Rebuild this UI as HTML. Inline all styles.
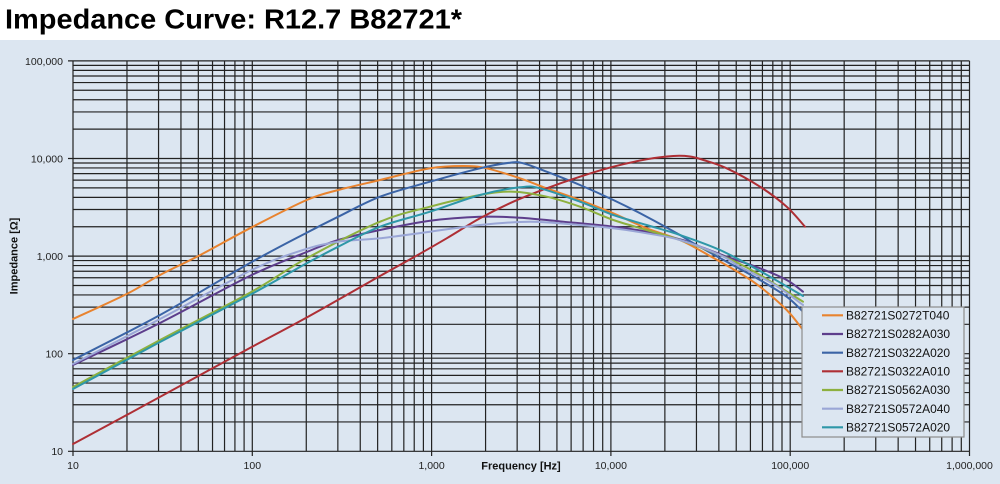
<!DOCTYPE html>
<html>
<head>
<meta charset="utf-8">
<style>
html,body{margin:0;padding:0;background:#fff;}
svg{display:block;}
text{font-family:"Liberation Sans",Arial,sans-serif;}
</style>
</head>
<body>
<svg width="1000" height="484" viewBox="0 0 1000 484" xmlns="http://www.w3.org/2000/svg">
<rect x="0" y="0" width="1000" height="40" fill="#ffffff"/>
<rect x="0" y="40" width="1000" height="444" fill="#dce6f1"/>
<text x="5" y="28.5" font-size="28" font-weight="bold" fill="#000" textLength="457" lengthAdjust="spacingAndGlyphs">Impedance Curve: R12.7 B82721*</text>

<!-- grid -->
<g stroke="#222" stroke-width="1.2" fill="none">
<path d="M73 60.9V451.3M126.97 60.9V451.3M158.55 60.9V451.3M180.95 60.9V451.3M198.33 60.9V451.3M212.52 60.9V451.3M224.53 60.9V451.3M234.92 60.9V451.3M244.1 60.9V451.3
M252.3 60.9V451.3M306.27 60.9V451.3M337.85 60.9V451.3M360.25 60.9V451.3M377.63 60.9V451.3M391.82 60.9V451.3M403.83 60.9V451.3M414.22 60.9V451.3M423.4 60.9V451.3
M431.6 60.9V451.3M485.57 60.9V451.3M517.15 60.9V451.3M539.55 60.9V451.3M556.93 60.9V451.3M571.12 60.9V451.3M583.13 60.9V451.3M593.52 60.9V451.3M602.7 60.9V451.3
M610.9 60.9V451.3M664.87 60.9V451.3M696.45 60.9V451.3M718.85 60.9V451.3M736.23 60.9V451.3M750.42 60.9V451.3M762.43 60.9V451.3M772.82 60.9V451.3M782 60.9V451.3
M790.2 60.9V451.3M844.17 60.9V451.3M875.75 60.9V451.3M898.15 60.9V451.3M915.53 60.9V451.3M929.72 60.9V451.3M941.73 60.9V451.3M952.12 60.9V451.3M961.3 60.9V451.3
M969.5 60.9V451.3"/>
<path d="M73 451.3H969.5M73 421.92H969.5M73 404.73H969.5M73 392.54H969.5M73 383.08H969.5M73 375.35H969.5M73 368.82H969.5M73 363.16H969.5M73 358.17H969.5
M73 353.7H969.5M73 324.32H969.5M73 307.13H969.5M73 294.94H969.5M73 285.48H969.5M73 277.75H969.5M73 271.22H969.5M73 265.56H969.5M73 260.57H969.5
M73 256.1H969.5M73 226.72H969.5M73 209.53H969.5M73 197.34H969.5M73 187.88H969.5M73 180.15H969.5M73 173.62H969.5M73 167.96H969.5M73 162.97H969.5
M73 158.5H969.5M73 129.12H969.5M73 111.93H969.5M73 99.74H969.5M73 90.28H969.5M73 82.55H969.5M73 76.02H969.5M73 70.36H969.5M73 65.37H969.5
M73 60.9H969.5"/>
<!-- tick marks -->
<path d="M68 451.3H73M68 353.7H73M68 256.1H73M68 158.5H73M68 60.9H73
M73 451.3V456M252.3 451.3V456M431.6 451.3V456M610.9 451.3V456M790.2 451.3V456M969.5 451.3V456"/>
</g>

<!-- y tick labels -->
<g font-size="10.5" fill="#222" text-anchor="end">
<text x="63" y="64.8">100,000</text>
<text x="63" y="162.4">10,000</text>
<text x="63" y="260">1,000</text>
<text x="63" y="357.6">100</text>
<text x="63" y="455.2">10</text>
</g>
<!-- x tick labels -->
<g font-size="10.5" fill="#222" text-anchor="middle">
<text x="73" y="469">10</text>
<text x="252.3" y="469">100</text>
<text x="431.6" y="469">1,000</text>
<text x="610.9" y="469">10,000</text>
<text x="790.2" y="469">100,000</text>
<text x="969.5" y="469">1,000,000</text>
</g>
<text x="521" y="469.5" font-size="11" font-weight="bold" fill="#111" text-anchor="middle">Frequency [Hz]</text>
<text x="0" y="0" font-size="11" font-weight="bold" fill="#111" text-anchor="middle" transform="translate(17.5,256) rotate(-90)">Impedance [Ω]</text>

<!-- curves -->
<g fill="none" stroke-width="2" stroke-linejoin="round" stroke-linecap="round">
<polyline class="c" stroke="#e8832f" points="73,319 126.7,294 160,275 198.3,256 251.7,227.3 306.7,200 338.3,190 380,180 430,168.3 463.3,166 486.7,168.3 520,178.3 546.7,188.3 580,200 613.3,213.3 646.7,228.3 680,240 710,256 740,273.3 760,286.7 786.7,310 803,330"/>
<polyline class="c" stroke="#5d3e8c" points="73,365 160,323 251.7,275 306.7,252 338.3,240 380,230 430,220.7 480,216.7 520,217.7 563.3,221.7 613.3,226.7 646.7,231.7 680,239.3 693.3,244 726.7,256.7 760,268.3 786.7,280 803,291.7"/>
<polyline class="c" stroke="#3b64a6" points="73,360 160,315 251.7,262 306.7,232.7 338.3,216.7 380,196.7 430,181.7 480,168.3 510,162.7 523.3,163.3 546.7,171.7 580,185 613.3,200 646.7,216.7 680,235 693,243 726.7,261.7 760,280 786.7,296.7 803,311.7"/>
<polyline class="c" stroke="#ae2f35" points="73,444 126.7,415 251.7,347 306.7,317.5 380,276 413.3,257.5 446.7,238.3 480,218.3 513.3,201.7 546.7,188.3 580,176.7 613.3,166.7 646.7,159.3 673.3,156 690,156.5 703.3,160 726.7,168.3 760,186.7 786.7,206.7 805,226.7"/>
<polyline class="c" stroke="#8db03f" points="73,387 160,340 251.7,291.7 306.7,258.3 380,221.7 430,206.7 480,195 513.3,191.7 546.7,196.7 580,206.7 613.3,220 646.7,230 680,240 720,255 740,264 760,275 803,301.7"/>
<polyline class="c" stroke="#9aa6d6" points="73,364 160,319 251.7,270 303,250 338.3,241.7 380,238.3 430,231.7 480,225 530,221.7 580,225 613.3,228.3 646.7,233.3 680,240 720,255 740,266.7 775,285 803,305"/>
<polyline class="c" stroke="#2e97a8" points="73,389 160,342 251.7,294 306.7,263.3 338.3,246.7 380,226.7 430,211.7 480,195 520,187.3 540,188.3 580,201.7 613.3,215 646.7,225 680,235 720,250 760,271 803,296"/>
</g>

<!-- legend -->
<rect x="802" y="307" width="162" height="130" fill="#dce6f1" stroke="#8c8c8c" stroke-width="1.2"/>
<g stroke-width="2.2">
<line x1="822" y1="315.3" x2="843" y2="315.3" stroke="#e8832f"/>
<line x1="822" y1="334" x2="843" y2="334" stroke="#5d3e8c"/>
<line x1="822" y1="352.7" x2="843" y2="352.7" stroke="#3b64a6"/>
<line x1="822" y1="371.3" x2="843" y2="371.3" stroke="#ae2f35"/>
<line x1="822" y1="390" x2="843" y2="390" stroke="#8db03f"/>
<line x1="822" y1="408.7" x2="843" y2="408.7" stroke="#9aa6d6"/>
<line x1="822" y1="427.3" x2="843" y2="427.3" stroke="#2e97a8"/>
</g>
<g font-size="12" fill="#111">
<text x="846" y="319.5">B82721S0272T040</text>
<text x="846" y="338.2">B82721S0282A030</text>
<text x="846" y="356.9">B82721S0322A020</text>
<text x="846" y="375.5">B82721S0322A010</text>
<text x="846" y="394.2">B82721S0562A030</text>
<text x="846" y="412.9">B82721S0572A040</text>
<text x="846" y="431.5">B82721S0572A020</text>
</g>
</svg>
<script>
(function(){
  var ns="http://www.w3.org/2000/svg";
  var pls=document.querySelectorAll("polyline.c");
  for(var k=0;k<pls.length;k++){
    var pl=pls[k];
    var raw=pl.getAttribute("points").trim().split(/\s+/);
    var p=raw.map(function(s){var a=s.split(",");return [parseFloat(a[0]),parseFloat(a[1])];});
    var d="M"+p[0][0]+" "+p[0][1];
    for(var i=0;i<p.length-1;i++){
      var p0=p[i-1]||p[i], p1=p[i], p2=p[i+1], p3=p[i+2]||p[i+1];
      var c1x=p1[0]+(p2[0]-p0[0])/6, c1y=p1[1]+(p2[1]-p0[1])/6;
      var c2x=p2[0]-(p3[0]-p1[0])/6, c2y=p2[1]-(p3[1]-p1[1])/6;
      d+="C"+c1x.toFixed(2)+" "+c1y.toFixed(2)+" "+c2x.toFixed(2)+" "+c2y.toFixed(2)+" "+p2[0]+" "+p2[1];
    }
    var path=document.createElementNS(ns,"path");
    path.setAttribute("d",d);
    path.setAttribute("stroke",pl.getAttribute("stroke"));
    pl.parentNode.replaceChild(path,pl);
  }
})();
</script>
</body>
</html>
